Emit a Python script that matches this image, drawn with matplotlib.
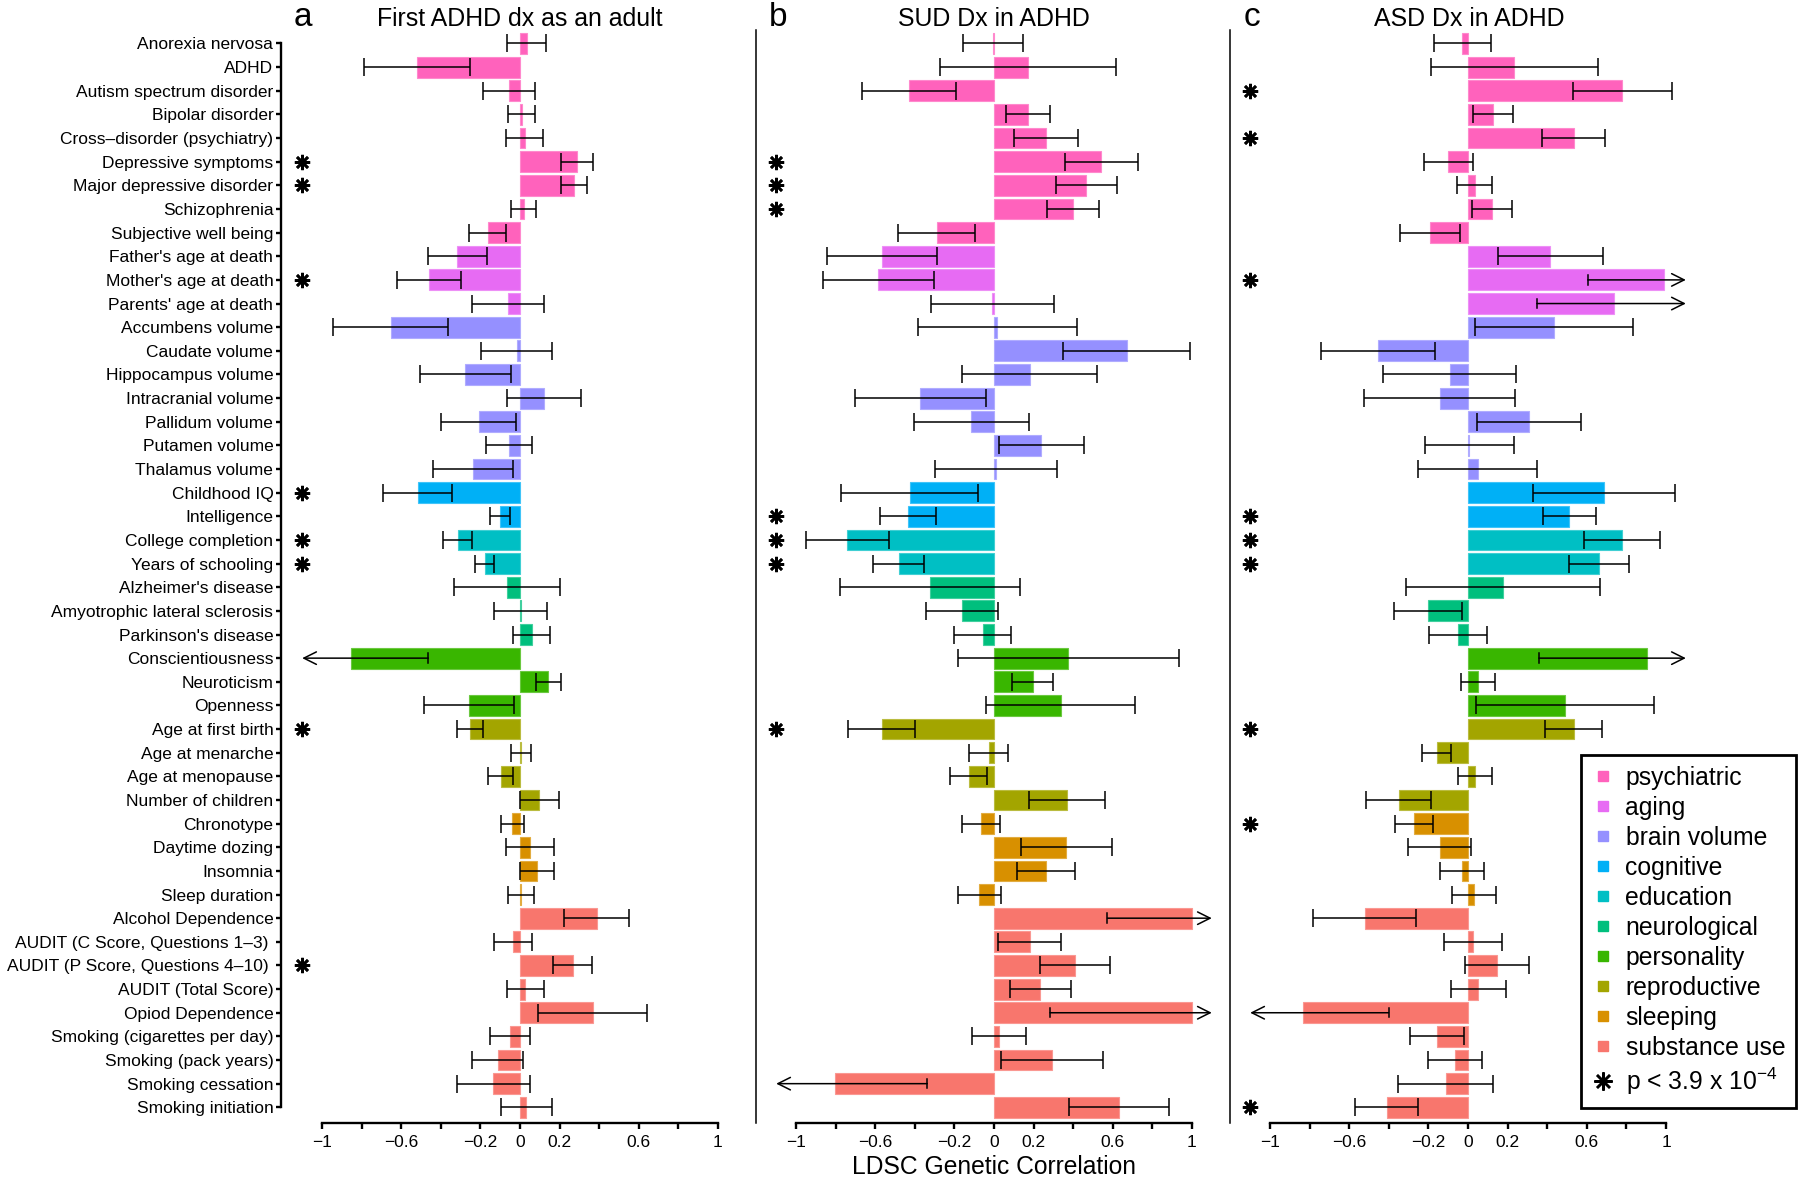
import numpy as np
import matplotlib
matplotlib.use("Agg")
import matplotlib.pyplot as plt
from matplotlib.lines import Line2D
from matplotlib.colors import to_rgb

plt.rcParams['font.family'] = ['Liberation Sans', 'DejaVu Sans']
plt.rcParams['mathtext.fontset'] = 'custom'
plt.rcParams['mathtext.rm'] = 'Liberation Sans'
plt.rcParams['mathtext.it'] = 'Liberation Sans:italic'

# ---- data ----
traits = [
    "Anorexia nervosa", "ADHD", "Autism spectrum disorder", "Bipolar disorder",
    "Cross\u2013disorder (psychiatry)", "Depressive symptoms", "Major depressive disorder",
    "Schizophrenia", "Subjective well being", "Father's age at death",
    "Mother's age at death", "Parents' age at death", "Accumbens volume",
    "Caudate volume", "Hippocampus volume", "Intracranial volume", "Pallidum volume",
    "Putamen volume", "Thalamus volume", "Childhood IQ", "Intelligence",
    "College completion", "Years of schooling", "Alzheimer's disease",
    "Amyotrophic lateral sclerosis", "Parkinson's disease", "Conscientiousness",
    "Neuroticism", "Openness", "Age at first birth", "Age at menarche",
    "Age at menopause", "Number of children", "Chronotype", "Daytime dozing",
    "Insomnia", "Sleep duration", "Alcohol Dependence",
    "AUDIT (C Score, Questions 1\u20133) ", "AUDIT (P Score, Questions 4\u201310) ",
    "AUDIT (Total Score)", "Opiod Dependence", "Smoking (cigarettes per day)",
    "Smoking (pack years)", "Smoking cessation", "Smoking initiation",
]
group_names = ["psychiatric", "aging", "brain volume", "cognitive", "education",
               "neurological", "personality", "reproductive", "sleeping", "substance use"]
group_colors = ["#FF62BC", "#E76BF3", "#9590FF", "#00B0F6", "#00BFC4",
                "#00BF7D", "#39B600", "#A3A500", "#D89000", "#F8766D"]
group_sizes = [9, 3, 7, 2, 2, 3, 3, 4, 4, 9]

rg_adult = [0.033, -0.52, -0.055, 0.008, 0.023, 0.287, 0.273, 0.018, -0.164, -0.316,
            -0.46, -0.06, -0.653, -0.017, -0.277, 0.12, -0.208, -0.057, -0.236, -0.517,
            -0.1, -0.314, -0.179, -0.065, 0.004, 0.059, -0.853, 0.144, -0.258, -0.251,
            0.005, -0.097, 0.098, -0.038, 0.051, 0.086, 0.004, 0.387, -0.034, 0.267,
            0.027, 0.367, -0.051, -0.113, -0.135, 0.031]
se_adult = [0.10, 0.27, 0.13, 0.067, 0.093, 0.08, 0.067, 0.062, 0.094, 0.151,
            0.163, 0.18, 0.29, 0.178, 0.23, 0.186, 0.19, 0.117, 0.203, 0.173,
            0.051, 0.074, 0.049, 0.266, 0.134, 0.092, 0.39, 0.063, 0.226, 0.065,
            0.05, 0.064, 0.098, 0.06, 0.12, 0.086, 0.066, 0.164, 0.097, 0.098,
            0.092, 0.277, 0.102, 0.127, 0.184, 0.129]
sig_adult = ["Depressive symptoms", "Major depressive disorder", "Mother's age at death",
             "Childhood IQ", "College completion", "Years of schooling",
             "Age at first birth", "AUDIT (P Score, Questions 4\u201310) "]

rg_sud = [-0.004, 0.17, -0.428, 0.171, 0.264, 0.541, 0.467, 0.398, -0.29, -0.566,
          -0.584, -0.008, 0.017, 0.67, 0.181, -0.372, -0.114, 0.239, 0.011, -0.426,
          -0.434, -0.74, -0.481, -0.324, -0.162, -0.058, 0.376, 0.195, 0.337, -0.568,
          -0.026, -0.128, 0.367, -0.067, 0.366, 0.261, -0.075, 1.0, 0.181, 0.411,
          0.234, 1.0, 0.025, 0.294, -0.802, 0.632]
se_sud = [0.15, 0.444, 0.238, 0.11, 0.161, 0.184, 0.155, 0.13, 0.196, 0.278,
          0.279, 0.31, 0.4, 0.319, 0.341, 0.33, 0.29, 0.214, 0.309, 0.347,
          0.141, 0.211, 0.129, 0.453, 0.182, 0.144, 0.56, 0.104, 0.376, 0.17,
          0.099, 0.093, 0.192, 0.097, 0.232, 0.146, 0.109, 0.427, 0.159, 0.177,
          0.155, 0.717, 0.136, 0.259, 0.465, 0.251]
sig_sud = ["Depressive symptoms", "Major depressive disorder", "Schizophrenia",
           "Intelligence", "College completion", "Years of schooling", "Age at first birth"]

rg_asd = [-0.029, 0.234, 0.778, 0.125, 0.535, -0.1, 0.033, 0.121, -0.19, 0.416,
          0.99, 0.738, 0.435, -0.456, -0.092, -0.143, 0.307, 0.007, 0.048, 0.687,
          0.512, 0.777, 0.66, 0.176, -0.203, -0.051, 0.903, 0.05, 0.489, 0.533,
          -0.157, 0.037, -0.351, -0.272, -0.144, -0.03, 0.03, -0.521, 0.025, 0.146,
          0.052, -0.835, -0.157, -0.065, -0.113, -0.411]
se_asd = [0.145, 0.42, 0.25, 0.1, 0.159, 0.123, 0.087, 0.099, 0.151, 0.266,
          0.385, 0.39, 0.4, 0.287, 0.335, 0.381, 0.264, 0.224, 0.3, 0.36,
          0.134, 0.193, 0.151, 0.49, 0.173, 0.148, 0.545, 0.085, 0.448, 0.145,
          0.073, 0.086, 0.164, 0.097, 0.161, 0.109, 0.109, 0.26, 0.145, 0.161,
          0.139, 0.434, 0.137, 0.136, 0.241, 0.158]
sig_asd = ["Autism spectrum disorder", "Cross\u2013disorder (psychiatry)",
           "Mother's age at death", "Intelligence", "College completion",
           "Years of schooling", "Age at first birth", "Chronotype", "Smoking initiation"]

x_ticks = [-1, -0.8, -0.6, -0.4, -0.2, 0, 0.2, 0.4, 0.6, 0.8, 1]
x_ticklabels = ["\u22121", "", "\u22120.6", "", "\u22120.2", "0", "0.2", "", "0.6", "", "1"]

# ---- figure ----
W, H = 1800, 1179
fig = plt.figure(figsize=(W / 100, H / 100), dpi=100)

colors = []
for c, n in zip(group_colors, group_sizes):
    colors += [c] * n
edge = [tuple(0.75 * np.array(to_rgb(c)) + 0.25) for c in colors]

y = np.arange(len(traits))
ax_bottom, ax_top = 1123, 30
ylim = (45.664, -0.571)
LIM = 1.1
STAR = (8, 2, 0)


def px_axes(left, right):
    return [left / W, 1 - ax_bottom / H, (right - left) / W, (ax_bottom - ax_top) / H]


def draw_panel(ax, rg, se, sig):
    rg = np.array(rg)
    se = np.array(se)
    ax.barh(y, np.clip(rg, -1, 1), height=0.88, color=colors, edgecolor=edge,
            linewidth=0.8, zorder=2)
    lo, hi = rg - se, rg + se
    ok = (hi <= LIM) & (lo >= -LIM)
    ax.errorbar(rg[ok], y[ok], xerr=se[ok], fmt="none", ecolor="black",
                elinewidth=1.1, capsize=6.5, capthick=1.1, zorder=3)
    # intervals running past the plotted range end in an arrow
    for i in np.where(~ok)[0]:
        if hi[i] > LIM:
            start, tip = lo[i], LIM
        else:
            start, tip = hi[i], -LIM
        ax.annotate("", xy=(tip, y[i]), xytext=(start, y[i]),
                    arrowprops=dict(arrowstyle="->,head_length=0.9,head_width=0.45",
                                    lw=1.1, color="black", shrinkA=0, shrinkB=0),
                    zorder=3)
        ax.plot([start, start], [y[i] - 0.2, y[i] + 0.2], color="black", lw=1.1, zorder=3)
    star_y = [traits.index(t) for t in sig]
    ax.plot([-1.1] * len(star_y), star_y, ls="none", marker=STAR, ms=11,
            mew=1.9, color="black", zorder=3)
    ax.set_ylim(*ylim)
    ax.set_xticks(x_ticks)
    ax.set_xticklabels(x_ticklabels)
    ax.tick_params(axis="x", direction="out", length=4.5, width=1.7, labelsize=12.5, pad=4)
    ax.spines["bottom"].set_bounds(-1, 1)
    ax.spines["bottom"].set_linewidth(1.7)
    ax.spines["top"].set_visible(False)
    ax.spines["right"].set_visible(False)
    ax.patch.set_visible(False)


ax_a = fig.add_axes(px_axes(281, 755.6))
ax_a.set_xlim(-1.207, 1.19)
draw_panel(ax_a, rg_adult, se_adult, sig_adult)
ax_a.set_yticks(y)
ax_a.set_yticklabels(traits, fontsize=12.5)
ax_a.tick_params(axis="y", length=3.5, width=1.7, pad=2)
ax_a.spines["left"].set_bounds(0, len(traits) - 1)
ax_a.spines["left"].set_linewidth(1.7)

ax_b = fig.add_axes(px_axes(756, 1229.6))
ax_b.set_xlim(-1.202, 1.19)
draw_panel(ax_b, rg_sud, se_sud, sig_sud)
ax_b.set_yticks([])
ax_b.spines["left"].set_linewidth(1.1)

ax_c = fig.add_axes(px_axes(1230, 1798.7))
ax_c.set_xlim(-1.202, 1.67)
draw_panel(ax_c, rg_asd, se_asd, sig_asd)
ax_c.set_yticks([])
ax_c.spines["left"].set_linewidth(1.1)

# titles and panel letters
base = 1 - 26 / H
for x0, letter in [(303, "a"), (778, "b"), (1252, "c")]:
    fig.text(x0 / W, base, letter, fontsize=24, ha="center", va="baseline")
for x0, title in [(520, "First ADHD dx as an adult"), (994, "SUD Dx in ADHD"),
                  (1469, "ASD Dx in ADHD")]:
    fig.text(x0 / W, base, title, fontsize=17.9, ha="center", va="baseline")
fig.text(994 / W, 1 - 1167 / H, "LDSC Genetic Correlation", fontsize=17.7,
         ha="center", va="center")

# legend
handles = [Line2D([], [], ls="none", marker="s", ms=7, mfc=c, mec=c) for c in group_colors]
handles.append(Line2D([], [], ls="none", marker=STAR, ms=13, mew=1.8, color="black"))
labels = group_names + ["p < 3.9 x 10$^{\u22124}$"]
leg = fig.legend(handles, labels, loc="upper left", bbox_to_anchor=(1581 / W, 1 - 755 / H),
                 frameon=True, fancybox=False, edgecolor="black", framealpha=1,
                 fontsize=17.8, labelspacing=0.24, handlelength=0.9, handletextpad=0.45,
                 borderpad=0.45, borderaxespad=0)
leg.get_frame().set_linewidth(2)

fig.savefig("out.png", dpi=100)
